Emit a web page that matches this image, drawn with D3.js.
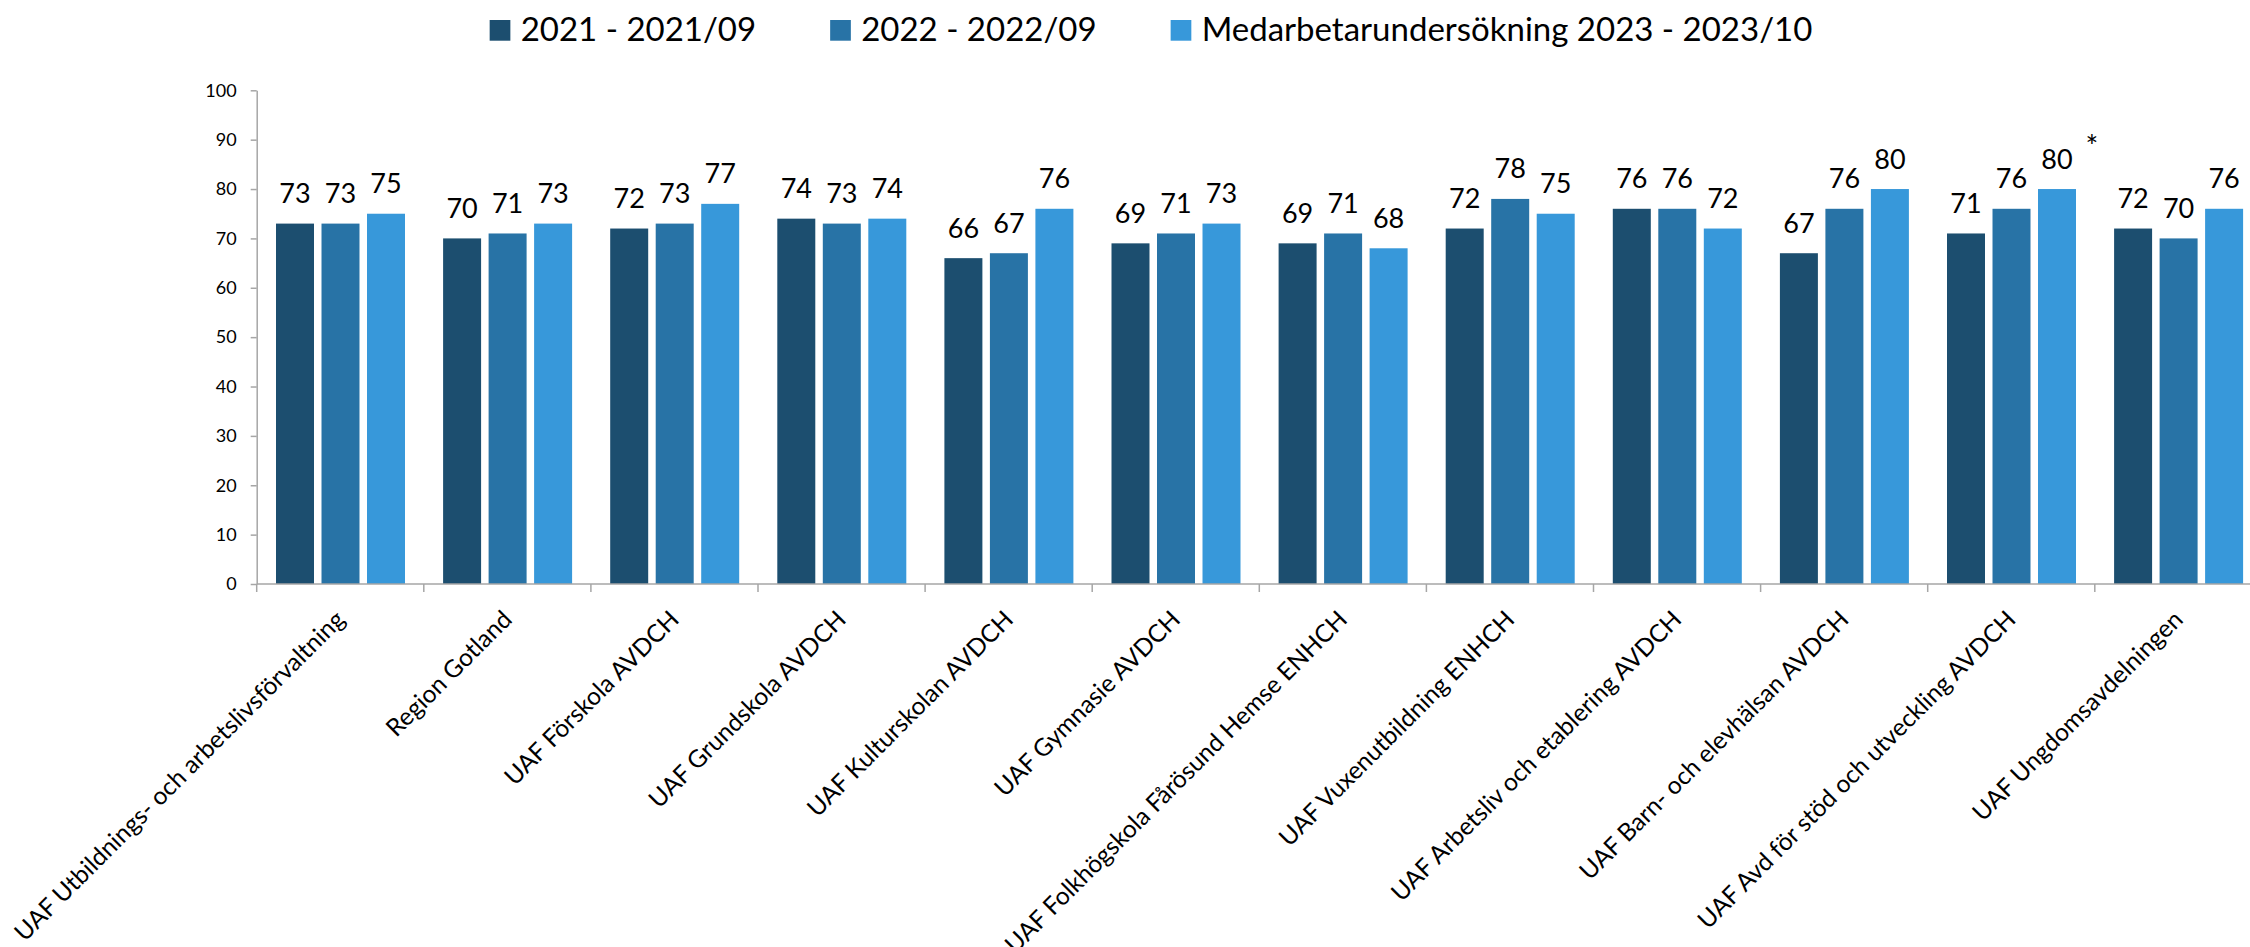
<!DOCTYPE html>
<html><head><meta charset="utf-8">
<script src="https://cdn.jsdelivr.net/npm/d3@7"></script>
<style>html,body{margin:0;padding:0;background:#fff;overflow:hidden}</style>
</head><body>
<svg id="chart" width="2250" height="947"></svg>
<script>
const categories = ["UAF Utbildnings- och arbetslivsförvaltning","Region Gotland","UAF Förskola AVDCH","UAF Grundskola AVDCH","UAF Kulturskolan AVDCH","UAF Gymnasie AVDCH","UAF Folkhögskola Fårösund Hemse ENHCH","UAF Vuxenutbildning ENHCH","UAF Arbetsliv och etablering AVDCH","UAF Barn- och elevhälsan AVDCH","UAF Avd för stöd och utveckling AVDCH","UAF Ungdomsavdelningen"];
const seriesNames = ["2021 - 2021/09","2022 - 2022/09","Medarbetarundersökning 2023 - 2023/10"];
const values2021 = [73,70,72,74,66,69,69,72,76,67,71,72];
const values2022 = [73,71,73,73,67,71,71,78,76,76,76,70];
const values2023 = [75,73,77,74,76,73,68,75,72,80,80,76];
const yTicks = [0,10,20,30,40,50,60,70,80,90,100];
const starCategories = ["UAF Avd för stöd och utveckling AVDCH","UAF Ungdomsavdelningen"];
const colors = ["#1c4e6f","#2873a6","#3798da"];

const seriesValues = [values2021, values2022, values2023];
const svg = d3.select("#chart");
const font = "Lato, 'Open Sans', sans-serif";
const axisColor = "#a6a6a6";

const left = 256.7, band = 167.1;
const x0 = d3.scaleBand().domain(categories).range([left, left + band*categories.length]).padding(0);
const x1 = d3.scaleBand().domain(seriesNames).range([19.3, 148.3]).paddingInner(0.165);
const y = d3.scaleLinear().domain([0,100]).range([584, 90.3]);

// y axis
const yAxis = svg.append("g").attr("transform", `translate(${left},0)`)
  .call(d3.axisLeft(y).tickValues(yTicks).tickSize(6).tickSizeOuter(0).tickPadding(14));
yAxis.select(".domain").attr("stroke", axisColor).attr("stroke-width", 1.5);
yAxis.selectAll(".tick line").attr("stroke", axisColor).attr("stroke-width", 1.5);
yAxis.selectAll(".tick text").attr("font-family", font).attr("font-size", 18).attr("fill", "#000");

// bars
const groups = svg.append("g").selectAll("g").data(categories).join("g")
  .attr("transform", d => `translate(${x0(d)},0)`);
seriesNames.forEach((s, si) => {
  groups.append("rect")
    .attr("x", x1(s))
    .attr("width", x1.bandwidth())
    .attr("y", (d,i) => y(seriesValues[si][i]))
    .attr("height", (d,i) => y(0) - y(seriesValues[si][i]))
    .attr("fill", colors[si]);
  groups.append("text")
    .attr("x", x1(s) + x1.bandwidth()/2)
    .attr("y", (d,i) => y(seriesValues[si][i]) - 20.5)
    .attr("text-anchor", "middle")
    .attr("font-family", font).attr("font-size", 27).attr("fill", "#000")
    .text((d,i) => seriesValues[si][i]);
});

// stars
svg.append("g").selectAll("text").data(starCategories).join("text")
  .attr("x", d => x0(d) + x1(seriesNames[2]) + x1.bandwidth() + 16)
  .attr("y", d => y(values2023[categories.indexOf(d)]) - 32)
  .attr("text-anchor", "middle")
  .attr("font-family", font).attr("font-size", 30).attr("fill", "#000")
  .text("*");

// x axis
const xg = svg.append("g");
xg.append("line").attr("x1", left).attr("x2", left + band*categories.length)
  .attr("y1", y(0)).attr("y2", y(0)).attr("stroke", axisColor).attr("stroke-width", 1.5);
const boundaries = categories.map(d => x0(d)).concat([x0(categories[categories.length-1]) + x0.bandwidth()]);
xg.selectAll("line.tk").data(boundaries).join("line").attr("class","tk")
  .attr("x1", d => d).attr("x2", d => d).attr("y1", y(0)).attr("y2", y(0) + 8)
  .attr("stroke", axisColor).attr("stroke-width", 1.5);
const xLabels = xg.selectAll("text").data(categories).join("text")
  .attr("transform", d => `translate(${x0(d) + x0.bandwidth()/2 + 6},${y(0) + 37}) rotate(-45)`)
  .attr("text-anchor", "end")
  .attr("font-family", font).attr("font-size", 26).attr("fill", "#000")
  .text(d => d);
// fit label font so the longest label matches the reference length
const len0 = xLabels.nodes()[0].getComputedTextLength();
xLabels.attr("font-size", 26 * 455 / len0);

// legend
const legend = svg.append("g");
const items = legend.selectAll("g").data(seriesNames).join("g");
items.append("rect").attr("width", 20.7).attr("height", 20.7).attr("y", 20).attr("fill", (d,i) => colors[i]);
items.append("text").attr("x", 31).attr("y", 41)
  .attr("font-family", font).attr("font-size", 33).attr("fill", "#000").text(d => d);
let widths = [];
items.each(function(){ widths.push(31 + d3.select(this).select("text").node().getComputedTextLength()); });
const gap = 74;
const total = d3.sum(widths) + gap*(widths.length-1);
let cx = 1151 - total/2;
items.each(function(d,i){ d3.select(this).attr("transform", `translate(${cx},0)`); cx += widths[i] + gap; });
</script>
</body></html>
